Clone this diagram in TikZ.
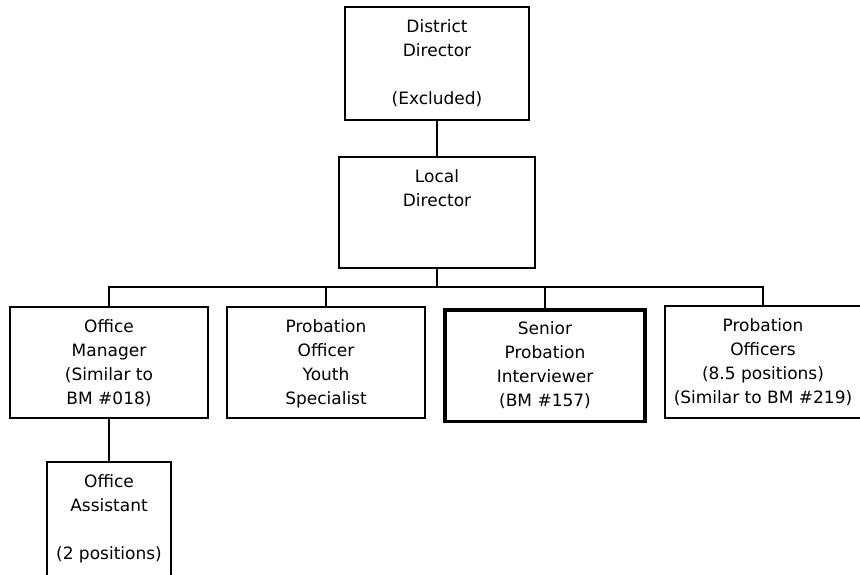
\documentclass[tikz,border=0pt]{standalone}
\usepackage{fontspec}
\setmainfont{DejaVu Sans}
\newcommand\boxtext[3]{\parbox[c][#2][t]{#1}{\centering\rule{0pt}{25pt}#3}}
\tikzset{
  orgbox/.style={draw=black, line width=1.6pt, inner sep=0pt, font=\fontsize{17}{24}\selectfont},
  thickbox/.style={orgbox, line width=3.5pt},
  conn/.style={draw=black, line width=1.6pt}
}
\begin{document}
\begin{tikzpicture}[x=1pt,y=-1pt]
\useasboundingbox (0,0) rectangle (860,574);
\fill[white] (0,0) rectangle (860,574);
\node[orgbox] (dd) at (437,63.5) {\boxtext{184pt}{113pt}{District\\Director\\\mbox{}\\(Excluded)}};
\node[orgbox] (ld) at (437,212.5) {\boxtext{196pt}{111pt}{Local\\Director}};
\node[orgbox] (om) at (109,362.5) {\boxtext{198pt}{111pt}{Office\\Manager\\(Similar to\\BM \#018)}};
\node[orgbox] (po) at (326,362.5) {\boxtext{198pt}{111pt}{Probation\\Officer\\Youth\\Specialist}};
\node[thickbox] (sp) at (545,365.5) {\boxtext{200pt}{111.5pt}{Senior\\Probation\\Interviewer\\(BM \#157)}};
\node[orgbox] (pos) at (763,362) {\boxtext{196pt}{112pt}{Probation\\Officers\\(8.5 positions)\\(Similar to BM \#219)}};
\node[orgbox] (oa) at (109,526) {\boxtext{124pt}{128pt}{Office\\Assistant\\\mbox{}\\(2 positions)}};
\coordinate (bus) at (437,287);
\draw[conn] (dd.south) -- (ld.north);
\draw[conn] (ld.south) -- (bus);
\draw[conn] (om.north) |- (bus) -| (pos.north);
\draw[conn] (po.north) -- (po.north |- bus);
\draw[conn] (sp.north) -- (sp.north |- bus);
\draw[conn] (om.south) -- (oa.north);
\end{tikzpicture}
\end{document}
